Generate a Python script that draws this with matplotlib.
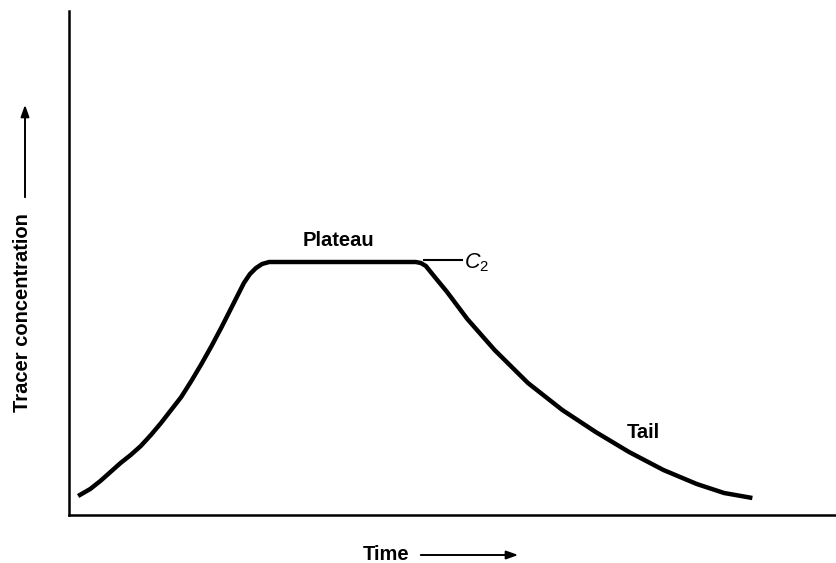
import matplotlib
matplotlib.use("Agg")
import matplotlib.pyplot as plt
import numpy as np

plt.rcParams['font.family'] = ['Liberation Sans', 'DejaVu Sans']
plt.rcParams['mathtext.fontset'] = 'custom'
plt.rcParams['mathtext.it'] = 'Liberation Sans:italic'
plt.rcParams['mathtext.rm'] = 'Liberation Sans'

W, H = 837, 563

# Curve: time (arbitrary units) and tracer concentration (arbitrary units)
time = [9, 21, 31, 41, 51, 61, 71, 81, 91, 101, 111, 121, 131, 141, 151, 159, 166, 173,
        179, 185, 191, 198, 211, 343, 348, 353, 361, 374, 394, 421, 454, 488, 521, 554,
        588, 621, 648, 676]
conc = [19, 26, 34, 43, 52, 60, 69, 80, 92, 105, 118, 134, 151, 169, 188, 204, 218, 232,
        241, 247, 251, 253, 253, 253, 252, 249, 239, 223, 196, 165, 132, 105, 83, 63,
        45, 31, 22, 17]

labels = {"plateau": "Plateau", "c2": "$C_2$", "tail": "Tail",
          "x": "Time", "y": "Tracer concentration"}

fig = plt.figure(figsize=(W / 100, H / 100), dpi=100)
ax_left, ax_bottom = 69 / W, (H - 515) / H
ax = fig.add_axes([ax_left, ax_bottom, 1 - ax_left + 0.01, (515 - 11) / H])
ax.set_xlim(0, 768)
ax.set_ylim(0, 504)
ax.plot(time, conc, color='black', lw=3.2, solid_capstyle='butt', solid_joinstyle='round')

for s in ['top', 'right']:
    ax.spines[s].set_visible(False)
for s in ['left', 'bottom']:
    ax.spines[s].set_linewidth(1.8)
ax.set_xticks([])
ax.set_yticks([])

fs = 14.5
fw = 'bold'
ax.text(267, 275, labels["plateau"], fontsize=fs, fontweight=fw, ha='center', va='center')
ax.plot([351, 389], [255, 255], color='black', lw=1.5)
ax.text(391, 252, labels["c2"], fontsize=fs + 1, ha='left', va='center')
ax.text(568, 82, labels["tail"], fontsize=fs, fontweight=fw, ha='center', va='center')

# Axis labels with arrows (figure coordinates)
fig.text(386 / W, 1 - 554 / H, labels["x"], fontsize=fs, fontweight=fw, ha='center', va='center')
fig.add_artist(matplotlib.patches.FancyArrowPatch(
    (418 / W, 1 - 555 / H), (521 / W, 1 - 555 / H), transform=fig.transFigure,
    arrowstyle='-|>,head_length=7,head_width=2.5', color='black', lw=1.4))
fig.text(23 / W, 1 - 313 / H, labels["y"], fontsize=fs, fontweight=fw, ha='center', va='center',
         rotation=90)
fig.add_artist(matplotlib.patches.FancyArrowPatch(
    (25 / W, 1 - 200 / H), (25 / W, 1 - 102 / H), transform=fig.transFigure,
    arrowstyle='-|>,head_length=7,head_width=2.5', color='black', lw=1.4))

fig.savefig("out.png", dpi=100)
